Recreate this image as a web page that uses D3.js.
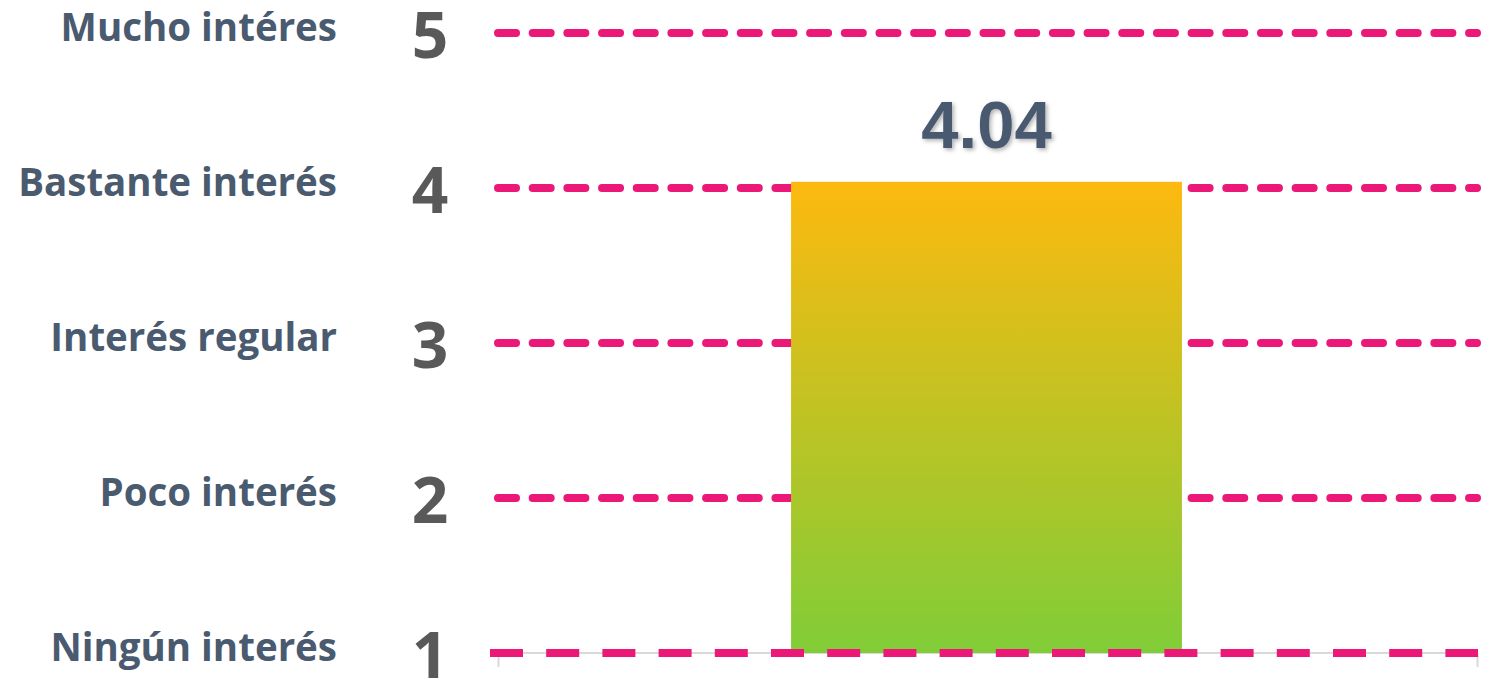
<!DOCTYPE html>
<html>
<head>
<meta charset="utf-8">
<script src="https://cdn.jsdelivr.net/npm/d3@7"></script>
<style>
  body { margin: 0; background: #fff; }
  svg { display: block; }
</style>
</head>
<body>
<svg width="1496" height="680"></svg>
<script>
var categories = ['Promedio'];
var values = [4.04];
var levels = [1, 2, 3, 4, 5];
var levelLabels = ['Ningún interés', 'Poco interés', 'Interés regular', 'Bastante interés', 'Mucho intéres'];

var margin = { top: 33, right: 17, bottom: 27, left: 494 };
var width = 1496 - margin.left - margin.right;
var height = 680 - margin.top - margin.bottom;

var svg = d3.select('svg');

var defs = svg.append('defs');
var grad = defs.append('linearGradient')
    .attr('id', 'barFill')
    .attr('x1', 0).attr('y1', 0).attr('x2', 0).attr('y2', 1);
grad.append('stop').attr('offset', '0%').attr('stop-color', '#fdb90f');
grad.append('stop').attr('offset', '100%').attr('stop-color', '#80cd38');

var shadow = defs.append('filter').attr('id', 'shadow')
    .attr('x', '-20%').attr('y', '-20%').attr('width', '140%').attr('height', '140%');
shadow.append('feDropShadow')
    .attr('dx', 2).attr('dy', 2).attr('stdDeviation', 2)
    .attr('flood-color', '#000').attr('flood-opacity', 0.3);

var g = svg.append('g').attr('transform', 'translate(' + margin.left + ',' + margin.top + ')');

var y = d3.scaleLinear().domain([1, 5]).range([height, 0]);
var x = d3.scaleBand().domain(categories).range([0, width]).paddingInner(0).paddingOuter(0.76);

// gray base axis line with end ticks
g.append('line')
    .attr('x1', -4).attr('x2', width - 1)
    .attr('y1', y(1)).attr('y2', y(1))
    .attr('stroke', '#d9d9d9').attr('stroke-width', 2);
[4.5, width - 1.5].forEach(function(tx) {
    g.append('line')
        .attr('x1', tx).attr('x2', tx)
        .attr('y1', y(1)).attr('y2', y(1) + 14)
        .attr('stroke', '#d9d9d9').attr('stroke-width', 2);
});

// dashed gridlines above the base
g.selectAll('.grid')
    .data(levels.filter(function(d) { return d > 1; }))
    .enter().append('line')
    .attr('class', 'grid')
    .attr('x1', 4).attr('x2', 983)
    .attr('y1', function(d) { return y(d); })
    .attr('y2', function(d) { return y(d); })
    .attr('stroke', '#ec1877')
    .attr('stroke-width', 8)
    .attr('stroke-linecap', 'round')
    .attr('stroke-dasharray', '18,16.68');

// bar
g.selectAll('.bar')
    .data(values)
    .enter().append('rect')
    .attr('class', 'bar')
    .attr('x', function(d, i) { return x(categories[i]); })
    .attr('width', x.bandwidth())
    .attr('y', function(d) { return y(d); })
    .attr('height', function(d) { return y(1) - y(d); })
    .attr('fill', 'url(#barFill)');

// base dashed line drawn on top of the bar
g.append('line')
    .attr('x1', -4).attr('x2', width - 1)
    .attr('y1', y(1)).attr('y2', y(1))
    .attr('stroke', '#ec1877')
    .attr('stroke-width', 8)
    .attr('stroke-dasharray', '33,23.2');

// value label
g.selectAll('.value')
    .data(values)
    .enter().append('text')
    .attr('class', 'value')
    .attr('x', function(d, i) { return x(categories[i]) + x.bandwidth() / 2; })
    .attr('y', function(d) { return y(d) - 34; })
    .attr('text-anchor', 'middle')
    .attr('font-family', 'Liberation Sans, Arial, sans-serif')
    .attr('font-weight', 'bold')
    .attr('font-size', 67)
    .attr('fill', '#4a5a6f')
    .attr('filter', 'url(#shadow)')
    .text(function(d) { return d.toFixed(2); });

// tick numbers
var axis = d3.axisLeft(y).tickValues(levels).tickFormat(d3.format('d')).tickSize(0);
var ax = g.append('g').call(axis);
ax.select('.domain').remove();
ax.selectAll('text')
    .attr('x', -64)
    .attr('dy', 24)
    .attr('text-anchor', 'middle')
    .attr('font-family', 'Open Sans, sans-serif')
    .attr('font-weight', 'bold')
    .attr('font-size', 64)
    .attr('fill', '#595959');

// category labels
g.selectAll('.level')
    .data(levels)
    .enter().append('text')
    .attr('class', 'level')
    .attr('x', -157)
    .attr('y', function(d) { return y(d) + 8; })
    .attr('text-anchor', 'end')
    .attr('font-family', 'Open Sans, sans-serif')
    .attr('font-weight', 'bold')
    .attr('font-size', 38.5)
    .attr('fill', '#4a5a6f')
    .text(function(d, i) { return levelLabels[i]; });
</script>
</body>
</html>
